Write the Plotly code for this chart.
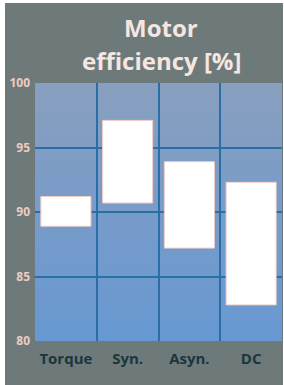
import plotly.graph_objects as go

categories = ["Torque", "Syn.", "Asyn.", "DC"]
eff_low = [88.9, 90.7, 87.2, 82.8]
eff_high = [91.2, 97.1, 93.9, 92.3]
y_ticks = [80, 85, 90, 95, 100]
title_lines = ["Motor", "efficiency [%]"]

W, H = 284, 385
ml, mr, mt, mb = 35, 2, 83, 44
pw = W - ml - mr
ph = H - mt - mb

xpos = list(range(len(categories)))

fig = go.Figure()
fig.add_trace(go.Bar(
    x=xpos,
    y=[h - l for h, l in zip(eff_high, eff_low)],
    base=eff_low,
    width=0.81,
    marker=dict(color="#ffffff", line=dict(color="#f2cfc8", width=1)),
    hoverinfo="skip",
))

shapes = []
shapes.append(dict(type="rect", xref="paper", yref="paper", layer="below",
                   x0=(5 - ml) / pw, x1=(283 - ml) / pw,
                   y0=-(mb + 2) / ph, y1=1 + (mt - 3) / ph,
                   fillcolor="#6e7a7a", line=dict(width=0)))
n = 24
top = (0x88, 0x9f, 0xc0)
bot = (0x68, 0x98, 0xd2)
for i in range(n):
    t = i / (n - 1)
    c = tuple(int(round(bot[k] + (top[k] - bot[k]) * t)) for k in range(3))
    shapes.append(dict(type="rect", xref="x domain", yref="y domain", layer="below",
                       x0=0, x1=1, y0=i / n, y1=min(1, (i + 2) / n),
                       fillcolor="rgb(%d,%d,%d)" % c, line=dict(width=0)))

title_font = dict(family="Open Sans", size=24, color="#f6e6e0", weight="bold")
annotations = [
    dict(text=title_lines[0], xref="paper", yref="paper",
         x=(161 - ml) / pw, y=1 + (mt - 27) / ph, xanchor="center", yanchor="middle",
         showarrow=False, font=title_font),
    dict(text=title_lines[1], xref="paper", yref="paper",
         x=(161 - ml) / pw, y=1 + (mt - 60) / ph, xanchor="center", yanchor="middle",
         showarrow=False, font=title_font),
]

grid_col = "#2a6ea6"
fig.update_layout(
    width=W, height=H,
    margin=dict(l=ml, r=mr, t=mt, b=mb, pad=0),
    paper_bgcolor="#ffffff",
    plot_bgcolor="#7a9cc8",
    showlegend=False,
    shapes=shapes,
    annotations=annotations,
    xaxis=dict(
        range=[-0.5, len(categories) - 0.5],
        tickvals=xpos, ticktext=categories,
        showgrid=False, automargin=False,
        minor=dict(tickvals=[i + 0.5 for i in xpos[:-1]], showgrid=True,
                   gridcolor=grid_col, gridwidth=2, ticks=""),
        ticks="", showline=False, zeroline=False,
        tickfont=dict(family="Open Sans", size=15, color="#1b363d", weight="bold"),
        ticklabelstandoff=7,
    ),
    yaxis=dict(
        range=[80, 100],
        tickvals=y_ticks,
        showgrid=False, automargin=False,
        minor=dict(tickvals=y_ticks[1:-1], showgrid=True,
                   gridcolor=grid_col, gridwidth=2, ticks=""),
        ticks="", showline=False, zeroline=False,
        tickfont=dict(family="Open Sans", size=12, color="#efcbc2", weight="bold"),
        ticklabelstandoff=4,
    ),
)

fig.write_html("out.html", config={"displayModeBar": False},
               post_script="document.body.style.margin='0';")
